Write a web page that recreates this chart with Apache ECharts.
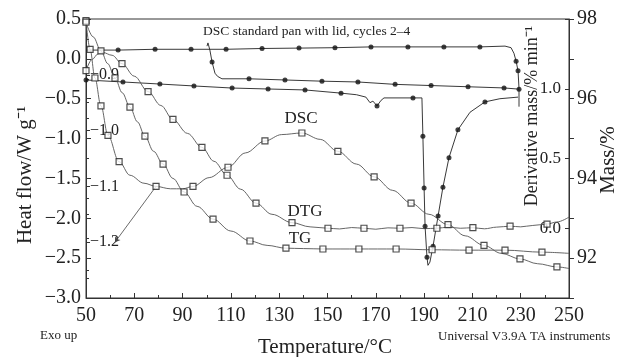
<!DOCTYPE html>
<html><head><meta charset="utf-8">
<script src="https://cdn.jsdelivr.net/npm/echarts@6/dist/echarts.min.js"></script>
<style>html,body{margin:0;padding:0;background:#fff}#c{width:622px;height:357px}</style>
</head><body><div id="c"></div>
<script>
// ---- DSC (heat flow, W/g) ----
const dscT  = [50,51.7,53.7,56.2,59.1,63.7,68.2,74,79,85,90,94.3,101,108.8,116,124.1,131,139.4,147,154.3,162,169.3,177,184.6,192,199.9,207,214.8,222,229.7,237,245,250];
const dscHF = [0.48,0.12,-0.24,-0.59,-0.96,-1.29,-1.46,-1.56,-1.60,-1.63,-1.63,-1.60,-1.49,-1.36,-1.18,-1.03,-0.95,-0.93,-1.01,-1.16,-1.32,-1.48,-1.65,-1.81,-1.95,-2.08,-2.22,-2.34,-2.44,-2.51,-2.57,-2.61,-2.63];
const dscMarks = [0,1,2,3,4,5,8,11,13,15,17,19,21,23,25,27,29,31];
// ---- DTG (derivative mass, %/min) ----
const dtgT = [50,52.5,55,57,60.8,64.9,70,75.7,81,86,92,98,103,108.4,114,120.4,127,135.3,142.8,150.2,155,160,165.1,170,175,180,185,190,195.3,200,205,210.2,215,220,225.6,230,235,240.9,245,250];
const dtgD = [1.13,1.21,1.25,1.26,1.24,1.18,1.09,0.98,0.88,0.78,0.68,0.58,0.48,0.38,0.28,0.18,0.10,0.04,0.01,0.0,-0.005,0.005,0.0,-0.007,0.003,0.0,0.005,-0.003,0.0,0.008,0.0,0.004,-0.004,0.008,0.015,0.01,0.02,0.03,0.045,0.08];
const dtgMarks = [0,5,7,9,11,13,15,17,19,22,25,28,31,34,37];
// ---- TG (mass, %) ----
const tgT = [50,53,56.2,59,62,65,68.2,71.3,74.4,78,81.9,86,90.6,96,102.6,110,117.9,125,132.8,140,148.1,163,178.4,193.3,208.6,223.5,238.8,250];
const tgM = [97.92,97.55,97.20,96.88,96.52,96.15,95.79,95.42,95.06,94.68,94.36,94.0,93.66,93.30,92.98,92.68,92.43,92.32,92.25,92.24,92.23,92.23,92.23,92.21,92.20,92.20,92.15,92.12];
const tgMarks = [0,2,4,6,8,10,12,14,16,18,20,21,22,23,24,25,26];
// ---- DSC standard pan with lid, cycles 2-4 (heat flow, W/g) ----
const aT  = [50,63.3,78.6,93.5,108,122.9,138.2,153.1,168,183.3,198.2,213.1,223.5,226,227.2,228.1,228.9,229.3,229.3];
const aHF = [0.11,0.11,0.12,0.12,0.12,0.13,0.135,0.14,0.15,0.15,0.15,0.15,0.16,0.14,0.07,-0.03,-0.15,-0.37,-0.60];
const aMarks = [1,2,3,4,5,6,7,8,9,10,11,15,16];
const bT  = [50,65.3,80.6,94.7,110.5,125.4,140.7,155.6,162,165.9,167.6,168.8,170.5,172.2,173.4,185.4,189.1,189.5,190.0,190.4,191.2,191.6,192.4,193.7,195.8,197.8,200.3,204.0,209,215.2,221.4,228.9];
const bHF = [-0.265,-0.29,-0.316,-0.34,-0.366,-0.378,-0.39,-0.43,-0.45,-0.48,-0.55,-0.53,-0.59,-0.52,-0.49,-0.49,-0.49,-0.97,-1.62,-2.10,-2.49,-2.59,-2.55,-2.35,-1.97,-1.61,-1.24,-0.89,-0.67,-0.54,-0.50,-0.48];
const bMarks = [0,1,2,3,4,5,6,7,12,15,17,18,19,20,23,24,25,26,27,29];
const cT  = [100.1,100.5,101.3,102.2,103.4,104.5,106.3,117.5,132.4,147.7,162.6,178,192.9,208.2,223.1,229.3];
const cHF = [0.16,0.20,0.11,-0.04,-0.18,-0.22,-0.25,-0.25,-0.265,-0.28,-0.29,-0.32,-0.335,-0.35,-0.365,-0.38];
const cMarks = [3,7,8,9,10,11,12,13,14,15];
// ---- annotation arrow (heat flow) ----
const arrT  = [79,62];
const arrHF = [-1.60,-2.30];
// ---- axis ticks ----
const xTicks = {min:50, max:250, step:20};
const hfTicks = {min:-3, max:0.5, step:0.5};
const innerTicks = {min:-1.3, max:-0.8, step:0.1, shown:[-0.9,-1.0,-1.1,-1.2]};
const derivTicks = {min:-0.5, max:1.5, step:0.5, shown:[0,0.5,1.0]};
const massTicks = {min:91, max:98, step:1, shown:[92,94,96,98]};

const zip = (xs, ys) => xs.map((x,i)=>[x, ys[i]]);
const pick = (xs, ys, idx) => idx.map(i=>[xs[i], ys[i]]);
const fmt = v => v.toFixed(1).replace('-', '\u2212');
const near = (v, list) => list.some(s => Math.abs(s - v) < 1e-6);
const SERIF = '"Liberation Serif","Times New Roman",serif';
const INK = '#222';

const chart = echarts.init(document.getElementById('c'), null, {renderer:'canvas'});

function lineS(name, data, yIdx, color, smooth){
  return {name, type:'line', data, yAxisIndex:yIdx, showSymbol:false, symbol:'none',
    smooth: smooth ? 0.35 : false, smoothMonotone: smooth ? 'x' : undefined,
    lineStyle:{color, width:0.9}, z:2, silent:true};
}
function sqS(data, yIdx){
  return {type:'scatter', data, yAxisIndex:yIdx, symbol:'rect', symbolSize:6,
    itemStyle:{color:'#fff', borderColor:'#222', borderWidth:1.2}, z:4, silent:true};
}
function dotS(data, yIdx){
  return {type:'scatter', data, yAxisIndex:yIdx, symbol:'circle', symbolSize:5,
    itemStyle:{color:'#111'}, z:4, silent:true};
}

const option = {
  animation:false,
  backgroundColor:'#fff',
  grid:{left:86, right:53, top:19, bottom:59, show:true, borderColor:'#333', borderWidth:1, backgroundColor:'transparent'},
  xAxis:{type:'value', min:xTicks.min, max:xTicks.max, interval:xTicks.step,
    axisLine:{onZero:false, lineStyle:{color:'#333', width:1}},
    axisTick:{inside:true, length:5, lineStyle:{color:'#333'}},
    minorTick:{show:true, splitNumber:2, length:3, lineStyle:{color:'#333'}},
    splitLine:{show:false},
    axisLabel:{margin:8, fontFamily:SERIF, fontSize:20, color:INK}},
  yAxis:[
    {type:'value', position:'left', min:hfTicks.min, max:hfTicks.max, interval:hfTicks.step,
      axisLine:{show:true, onZero:false, lineStyle:{color:'#333'}},
      axisTick:{inside:true, length:5, lineStyle:{color:'#333'}},
      minorTick:{show:true, splitNumber:2, length:3, lineStyle:{color:'#333'}},
      splitLine:{show:false},
      axisLabel:{margin:5, fontFamily:SERIF, fontSize:20, color:INK, formatter:fmt}},
    {type:'value', position:'left', min:innerTicks.min, max:innerTicks.max, interval:innerTicks.step,
      axisLine:{show:false},
      axisTick:{inside:true, length:4, lineStyle:{color:'#333'}},
      minorTick:{show:true, splitNumber:2, length:3, lineStyle:{color:'#333'}},
      splitLine:{show:false},
      axisLabel:{inside:true, margin:4, fontFamily:SERIF, fontSize:16, color:INK,
        formatter:v => near(v, innerTicks.shown) ? fmt(v) : ''}},
    {type:'value', position:'right', min:derivTicks.min, max:derivTicks.max, interval:derivTicks.step,
      axisLine:{show:false},
      axisTick:{inside:true, length:4, lineStyle:{color:'#333'}},
      splitLine:{show:false},
      axisLabel:{inside:true, margin:8, fontFamily:SERIF, fontSize:17, color:INK,
        formatter:v => near(v, derivTicks.shown) ? fmt(v) : ''}},
    {type:'value', position:'right', min:massTicks.min, max:massTicks.max, interval:massTicks.step,
      axisLine:{show:true, onZero:false, lineStyle:{color:'#333'}},
      axisTick:{inside:false, length:5, lineStyle:{color:'#333'}},
      splitLine:{show:false},
      axisLabel:{margin:8, fontFamily:SERIF, fontSize:20, color:INK,
        formatter:v => near(v, massTicks.shown) ? String(v) : ''}}
  ],
  series:[
    lineS('A', zip(aT,aHF), 0, '#222', false),
    lineS('B', zip(bT,bHF), 0, '#222', false),
    lineS('C', zip(cT,cHF), 0, '#222', false),
    lineS('DSC', zip(dscT,dscHF), 0, '#555', true),
    lineS('DTG', zip(dtgT,dtgD), 2, '#555', true),
    lineS('TG', zip(tgT,tgM), 3, '#555', true),
    {type:'line', yAxisIndex:0, data:[
        {value:[arrT[0],arrHF[0]], symbol:'none'},
        {value:[arrT[1],arrHF[1]], symbol:'arrow', symbolSize:5, symbolRotate:145}],
      showSymbol:true, lineStyle:{color:'#444', width:0.8}, itemStyle:{color:'#444'}, z:2, silent:true},
    dotS(pick(aT,aHF,aMarks),0),
    dotS(pick(bT,bHF,bMarks),0),
    dotS(pick(cT,cHF,cMarks),0),
    sqS(pick(dscT,dscHF,dscMarks),0),
    sqS(pick(dtgT,dtgD,dtgMarks),2),
    sqS(pick(tgT,tgM,tgMarks),3)
  ],
  graphic:[
    {type:'text', x:203, y:31, style:{text:'DSC standard pan with lid, cycles 2\u20134', font:'13.5px '+SERIF, fill:INK, textVerticalAlign:'middle'}},
    {type:'text', x:301, y:119, style:{text:'DSC', font:'17px '+SERIF, fill:INK, textAlign:'center', textVerticalAlign:'middle'}},
    {type:'text', x:305, y:212, style:{text:'DTG', font:'17px '+SERIF, fill:INK, textAlign:'center', textVerticalAlign:'middle'}},
    {type:'text', x:300, y:239, style:{text:'TG', font:'17px '+SERIF, fill:INK, textAlign:'center', textVerticalAlign:'middle'}},
    {type:'text', x:40, y:336, style:{text:'Exo up', font:'13px '+SERIF, fill:INK, textVerticalAlign:'middle'}},
    {type:'text', x:438, y:337, style:{text:'Universal V3.9A TA instruments', font:'13px '+SERIF, fill:INK, textVerticalAlign:'middle'}},
    {type:'text', x:325, y:347, style:{text:'Temperature/\u00B0C', font:'21px '+SERIF, fill:INK, textAlign:'center', textVerticalAlign:'middle'}},
    {type:'text', x:25, y:175, rotation:Math.PI/2, style:{text:'Heat flow/W g\u207B\u00B9', font:'21px '+SERIF, fill:INK, textAlign:'center', textVerticalAlign:'middle'}},
    {type:'text', x:608, y:160, rotation:Math.PI/2, style:{text:'Mass/%', font:'21px '+SERIF, fill:INK, textAlign:'center', textVerticalAlign:'middle'}},
    {type:'text', x:532, y:116, rotation:Math.PI/2, style:{text:'Derivative mass/% min\u207B\u00B9', font:'18px '+SERIF, fill:INK, textAlign:'center', textVerticalAlign:'middle'}}
  ]
};
chart.setOption(option);
</script></body></html>
